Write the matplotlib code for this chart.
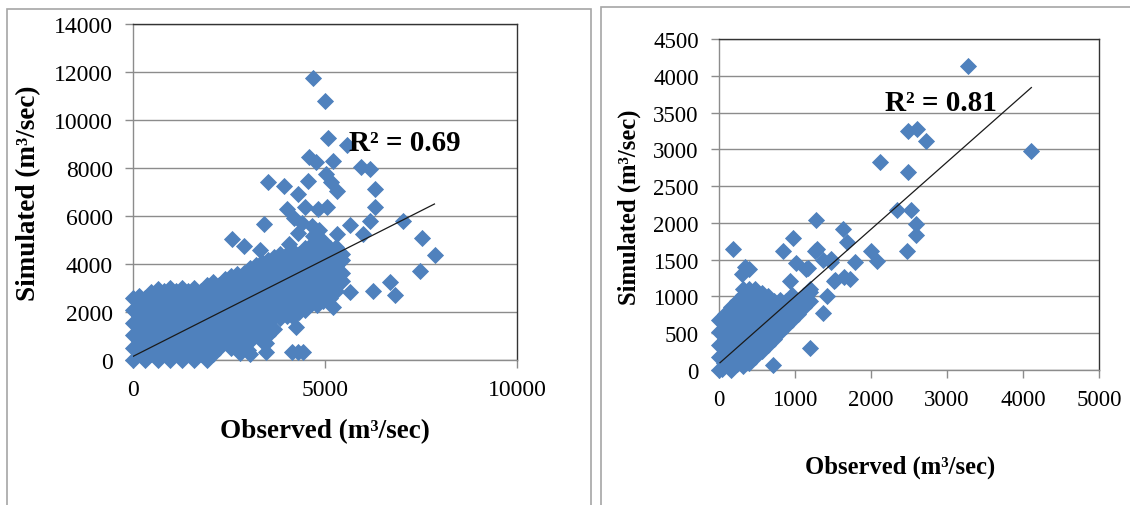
import matplotlib
matplotlib.use("Agg")
import matplotlib.pyplot as plt
from matplotlib.patches import Rectangle

#------------------------------------------------------------------------
#                       OBSERVED vs SIMULATED FLOW
#------------------------------------------------------------------------

# left panel: dense cloud, read column by column (observed, simulated values)
left_blob_obs = [0, 160, 320, 480, 640, 800, 960, 1120, 1280, 1440, 1600, 1760,
                 1920, 2080, 2240, 2400, 2560, 2720, 2880, 3040, 3200, 3360,
                 3520, 3680, 3840, 4000, 4160, 4320, 4480, 4640, 4800, 4960,
                 5120, 5280, 5440]
left_blob_sim = [
    [0, 520, 1040, 1560, 2080, 2600],
    [260, 780, 1300, 1820, 2340, 2650],
    [0, 520, 1040, 1560, 2080, 2600],
    [260, 780, 1300, 1820, 2340, 2850],
    [0, 520, 1040, 1560, 2080, 2600, 2950],
    [260, 780, 1300, 1820, 2340, 2860],
    [0, 520, 1040, 1560, 2080, 2600, 3000],
    [260, 780, 1300, 1820, 2340, 2860],
    [0, 520, 1040, 1560, 2080, 2600, 3000],
    [260, 780, 1300, 1820, 2340, 2860],
    [0, 520, 1040, 1560, 2080, 2600, 3000],
    [260, 780, 1300, 1820, 2340, 2860],
    [0, 520, 1040, 1560, 2080, 2600, 3120],
    [260, 780, 1300, 1820, 2340, 2860, 3250],
    [520, 1040, 1560, 2080, 2600, 3120],
    [780, 1300, 1820, 2340, 2860, 3380],
    [520, 1040, 1560, 2080, 2600, 3120, 3500],
    [780, 1300, 1820, 2340, 2860, 3380, 3600],
    [520, 1040, 1560, 2080, 2600, 3120, 3640],
    [260, 780, 1300, 1820, 2340, 2860, 3380, 3850],
    [1040, 1560, 2080, 2600, 3120, 3640, 3950],
    [780, 1300, 1820, 2340, 2860, 3380, 3900, 4100],
    [1040, 1560, 2080, 2600, 3120, 3640, 4160],
    [1300, 1820, 2340, 2860, 3380, 3900, 4300],
    [1750, 2080, 2600, 3120, 3640, 4160, 4400],
    [1820, 2340, 2860, 3380, 3900, 4420],
    [1800, 2080, 2600, 3120, 3640, 4160, 4550],
    [2000, 2340, 2860, 3380, 3900, 4420],
    [2080, 2600, 3120, 3640, 4160, 4680],
    [2340, 2860, 3380, 3900, 4420, 4800],
    [2300, 2600, 3120, 3640, 4160, 4680],
    [2450, 2860, 3380, 3900, 4420, 4940],
    [2600, 3120, 3640, 4160, 4680],
    [2860, 3380, 3900, 4420, 4700],
    [3300, 3640, 4160, 4400],
]
# left panel: scattered points outside the cloud
left_obs = [4680, 5000, 5080, 5570, 4580, 4770, 5210, 5930, 6170, 5030, 5160, 5300,
            6290, 4550, 3520, 3940, 4290, 6310, 6170, 5060, 4820, 4000, 4470, 3400,
            5640, 5980, 7040, 7520, 7860, 7470, 6700, 6820, 6250, 5640, 5210, 5300,
            4200, 4050, 2590, 2900, 3300, 4250, 4150, 4440, 3470, 3470, 3000, 2780,
            4200, 4400, 4650, 4300, 4700, 4850, 4300]
left_sim = [11750, 10800, 9240, 8970, 8450, 8240, 8300, 8030, 7960, 7750, 7430, 7060,
            7130, 7470, 7430, 7260, 6920, 6360, 5800, 6360, 6290, 6290, 6360, 5670,
            5620, 5250, 5800, 5070, 4380, 3720, 3240, 2710, 2890, 2820, 2200, 5250,
            4420, 4830, 5040, 4760, 4600, 1360, 320, 320, 350, 700, 400, 300,
            5900, 5700, 5600, 5300, 5150, 5400, 350]
left_trend_obs = [0, 7850]
left_trend_sim = [150, 6500]

# right panel: cluster near the origin, column by column
right_blob_obs = [0, 80, 160, 240, 320, 400, 480, 560, 640, 720, 800, 880, 960,
                  1040, 1120, 1200]
right_blob_sim = [
    [0, 170, 340, 510, 680],
    [85, 255, 425, 595, 765],
    [0, 170, 340, 510, 680, 850],
    [85, 255, 425, 595, 765, 935],
    [50, 170, 340, 510, 680, 850, 1020, 1100],
    [100, 255, 425, 595, 765, 935, 1105],
    [170, 340, 510, 680, 850, 1020, 1100],
    [255, 425, 595, 765, 935, 1050],
    [340, 510, 680, 850, 1000],
    [425, 595, 765, 935],
    [510, 680, 850, 950],
    [595, 765, 935],
    [680, 850, 1020],
    [765, 935],
    [850, 1020],
    [935, 1105],
]
right_obs = [3280, 4110, 2490, 2600, 2730, 2120, 2490, 2340, 2530, 2590, 2590, 2480,
             2000, 2080, 1270, 1630, 1690, 1790, 1720, 1510, 1470, 1290, 970, 840,
             1010, 930, 1150, 1200, 1420, 1370, 1200, 710, 190, 300, 390, 1260,
             1370, 1480, 1640, 1530, 345, 1175, 60, 40]
right_sim = [4130, 2980, 3250, 3270, 3110, 2830, 2690, 2180, 2180, 1990, 1830, 1620,
             1620, 1480, 2040, 1920, 1740, 1470, 1240, 1210, 1470, 1640, 1790, 1620,
             1460, 1210, 1370, 1060, 1000, 770, 300, 70, 1640, 1300, 1370, 1620,
             1490, 1510, 1260, 1220, 1400, 1380, 90, 20]
right_trend_obs = [13, 4110]
right_trend_sim = [99, 3840]

BLUE = "#4F81BD"
GRID = "#8c8c8c"
SERIF = "Liberation Serif"


def expand(cols, sims, obs, sim):
    xs = []
    ys = []
    for x, col in zip(cols, sims):
        for y in col:
            xs.append(x)
            ys.append(y)
    return xs + list(obs), ys + list(sim)


def panel(ax, xs, ys, tx, ty, xmax, ymax, xstep, ystep, msize, tick_fs, lab_fs,
          r2, r2_pos, xlab_pos, ylab_pos):
    ax.scatter(xs, ys, marker="D", s=msize, color=BLUE, edgecolors=BLUE,
               linewidths=0.6, clip_on=False, zorder=3)
    ax.plot(tx, ty, color="#1a1a1a", linewidth=0.9, zorder=4)
    ax.set_xlim(0, xmax)
    ax.set_ylim(0, ymax)
    ax.set_xticks(range(0, xmax + 1, xstep))
    ax.set_yticks(range(0, ymax + 1, ystep))
    ax.yaxis.grid(True, color=GRID, linewidth=1.0)
    ax.set_axisbelow(True)
    for s in ["left", "bottom"]:
        ax.spines[s].set_color(GRID)
        ax.spines[s].set_linewidth(1.0)
    for s in ["top", "right"]:
        ax.spines[s].set_color("#333333")
        ax.spines[s].set_linewidth(1.0)
    ax.tick_params(axis="both", direction="out", length=5.5, width=1.0,
                   color=GRID, labelsize=tick_fs)
    ax.tick_params(axis="y", pad=9)
    ax.tick_params(axis="x", pad=8)
    for lab in ax.get_xticklabels() + ax.get_yticklabels():
        lab.set_fontfamily(SERIF)
    ax.set_xlabel("Observed (m³/sec)", fontfamily=SERIF, fontweight="bold",
                  fontsize=lab_fs, va="center")
    ax.set_ylabel("Simulated (m³/sec)", fontfamily=SERIF, fontweight="bold",
                  fontsize=lab_fs, va="center")
    ax.xaxis.set_label_coords(*xlab_pos)
    ax.yaxis.set_label_coords(*ylab_pos)
    ax.text(r2_pos[0], r2_pos[1], r2, fontfamily=SERIF, fontweight="bold",
            fontsize=21, ha="center", va="center", zorder=5)


def main():
    fig = plt.figure(figsize=(11.3, 5.06), dpi=100)

    # panel frames
    fig.add_artist(Rectangle((7 / 1130, -0.05), 584 / 1130, 1.05 - 10 / 506,
                             transform=fig.transFigure, fill=False,
                             edgecolor="#a6a6a6", linewidth=1.2))
    fig.add_artist(Rectangle((601 / 1130, -0.05), 540 / 1130, 1.05 - 8 / 506,
                             transform=fig.transFigure, fill=False,
                             edgecolor="#a6a6a6", linewidth=1.2))

    ax1 = fig.add_axes([133 / 1130, 145 / 506, 384 / 1130, 336 / 506])
    xs, ys = expand(left_blob_obs, left_blob_sim, left_obs, left_sim)
    panel(ax1, xs, ys, left_trend_obs, left_trend_sim, 10000, 14000, 5000, 2000,
          66, 17, 19.5, "R² = 0.69", (7080, 9080), (0.5, -0.211), (-0.271, 0.5))

    ax2 = fig.add_axes([719 / 1130, 135 / 506, 380 / 1130, 331 / 506])
    xs, ys = expand(right_blob_obs, right_blob_sim, right_obs, right_sim)
    panel(ax2, xs, ys, right_trend_obs, right_trend_sim, 5000, 4500, 1000, 500,
          66, 16.5, 17.7, "R² = 0.81", (2920, 3640), (0.476, -0.29), (-0.237, 0.495))

    fig.savefig("out.png", dpi=100)


if __name__ == "__main__":
    main()
